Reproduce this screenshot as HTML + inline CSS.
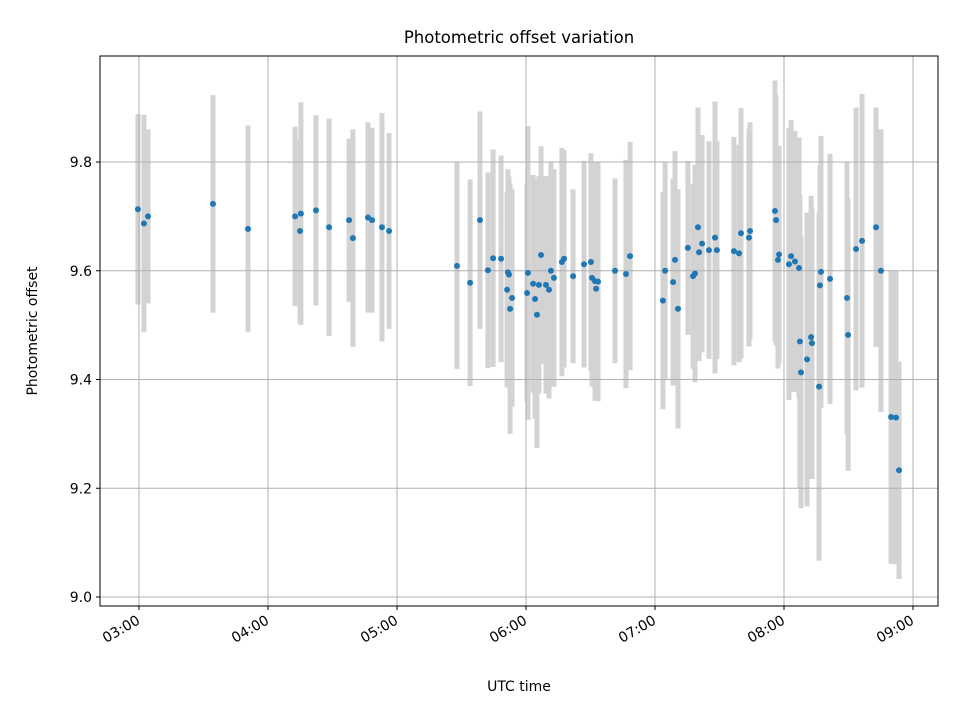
<!DOCTYPE html>
<html><head><meta charset="utf-8"><style>
body{margin:0;background:#fff;}
svg{display:block;font-family:"DejaVu Sans","Liberation Sans",sans-serif;}
</style></head><body>
<svg id="chart" width="960" height="720" viewBox="0 0 960 720" xmlns="http://www.w3.org/2000/svg">
<rect width="960" height="720" fill="#fff"/>
<text x="519" y="43" font-size="16.5" text-anchor="middle" fill="#000">Photometric offset variation</text>
<text x="519" y="691" font-size="14" text-anchor="middle" fill="#000">UTC time</text>
<text transform="translate(37,331) rotate(-90)" font-size="14" text-anchor="middle" fill="#000">Photometric offset</text>
<g id="bars"></g><g id="grid"></g><g id="pts"></g><g id="axes"></g>
</svg>
<script>
// minutes after 03:00 UTC
const times=[-0.5,2.3,4.2,34.4,50.7,72.6,75.3,74.9,82.3,88.4,97.7,99.5,106.5,108.4,113,116.3,
147.9,154,158.6,162.3,164.7,168.4,171.2,171.6,172.1,172.6,173.5,180.9,180.5,183.3,185.1,184.2,186,187,189.3,190.7,191.6,193,196.7,197.7,201.9,207,210.2,210.7,212.1,213.5,212.6,221.4,226.5,228.4,
243.7,244.7,248.4,249.3,250.7,255.3,257.7,258.6,260,260.5,261.9,265.1,267.9,268.8,276.7,279.1,280,283.7,284.2,
295.8,296.3,297.7,297.2,303.3,302.3,305.1,307,307.4,307.9,310.7,312.6,313,316.3,317.2,316.7,321.4,329.3,329.8,333.5,336.3,342.8,345.1,349.8,352.1,353.5];
const offsets=[9.713,9.687,9.70,9.723,9.677,9.70,9.705,9.673,9.711,9.68,9.693,9.66,9.698,9.693,9.68,9.673,
9.609,9.578,9.693,9.601,9.623,9.622,9.565,9.597,9.593,9.53,9.55,9.596,9.559,9.576,9.519,9.548,9.574,9.629,9.574,9.565,9.60,9.587,9.616,9.622,9.590,9.612,9.616,9.587,9.581,9.58,9.567,9.600,9.594,9.627,
9.545,9.600,9.579,9.620,9.53,9.642,9.59,9.595,9.680,9.634,9.650,9.638,9.661,9.638,9.636,9.632,9.669,9.661,9.673,
9.71,9.693,9.63,9.62,9.627,9.612,9.617,9.605,9.47,9.413,9.437,9.478,9.467,9.387,9.598,9.573,9.585,9.55,9.482,9.64,9.655,9.68,9.60,9.331,9.33,9.233];
const errors=[0.175,0.2,0.16,0.2,0.19,0.165,0.205,0.17,0.175,0.2,0.15,0.2,0.175,0.17,0.21,0.18,
0.19,0.19,0.2,0.18,0.2,0.19,0.18,0.19,0.18,0.23,0.2,0.27,0.2,0.2,0.245,0.22,0.2,0.2,0.2,0.2,0.2,0.2,0.21,0.2,0.16,0.19,0.2,0.2,0.22,0.22,0.2,0.17,0.21,0.21,
0.2,0.2,0.19,0.2,0.22,0.16,0.17,0.2,0.22,0.2,0.2,0.2,0.25,0.2,0.21,0.2,0.23,0.2,0.2,
0.24,0.23,0.2,0.2,0.25,0.25,0.24,0.24,0.27,0.25,0.27,0.26,0.25,0.32,0.25,0.22,0.23,0.25,0.25,0.26,0.27,0.22,0.26,0.27,0.27,0.2];
const yTicks=[9.0,9.2,9.4,9.6,9.8];
const xTickHours=[0,1,2,3,4,5,6];
const xTickLabels=["03:00","04:00","05:00","06:00","07:00","08:00","09:00"];

const L=100,R=938,T=56,B=606;
const xs=m=>139+m*2.15;
const ys=v=>597-(v-9.0)*543.75;
const NS="http://www.w3.org/2000/svg";
function mk(tag,parent,attrs){const e=document.createElementNS(NS,tag);for(const k in attrs)e.setAttribute(k,attrs[k]);parent.appendChild(e);return e;}
const gb=document.getElementById('bars'),gg=document.getElementById('grid'),gp=document.getElementById('pts'),ga=document.getElementById('axes');
for(let i=0;i<times.length;i++){
  const x=xs(times[i]);
  const b=mk('line',gb,{x1:x,x2:x,y1:ys(offsets[i]+errors[i]),y2:ys(offsets[i]-errors[i]),stroke:'#d3d3d3','stroke-width':5});
  
  
}
yTicks.forEach(v=>{
  const y=ys(v);
  const g=mk('line',gg,{x1:L,x2:R,y1:y,y2:y,stroke:'#b0b0b0','stroke-width':1});
  
  
  mk('line',ga,{x1:L-4,x2:L,y1:y,y2:y,stroke:'#000','stroke-width':1});
  const t=mk('text',ga,{x:L-8,y:y+5,'font-size':14,'text-anchor':'end',fill:'#000'});
  t.textContent=v.toFixed(1);
  
  
});
xTickHours.forEach((h,i)=>{
  const x=xs(h*60);
  const g=mk('line',gg,{x1:x,x2:x,y1:T,y2:B,stroke:'#b0b0b0','stroke-width':1});
  
  
  mk('line',ga,{x1:x,x2:x,y1:B,y2:B+4,stroke:'#000','stroke-width':1});
  const t=mk('text',ga,{x:0,y:0,'font-size':14,'text-anchor':'end',fill:'#000',transform:`translate(${x+2},${B+17}) rotate(-30)`});
  t.textContent=xTickLabels[i];
  
  
});
for(let i=0;i<times.length;i++){
  const c=mk('circle',gp,{cx:xs(times[i]),cy:ys(offsets[i]),r:3,fill:'#1f77b4'});
  
  
}
const f=mk('rect',ga,{x:L,y:T,width:R-L,height:B-T,fill:'none',stroke:'#000','stroke-width':1});


</script>
</body></html>
